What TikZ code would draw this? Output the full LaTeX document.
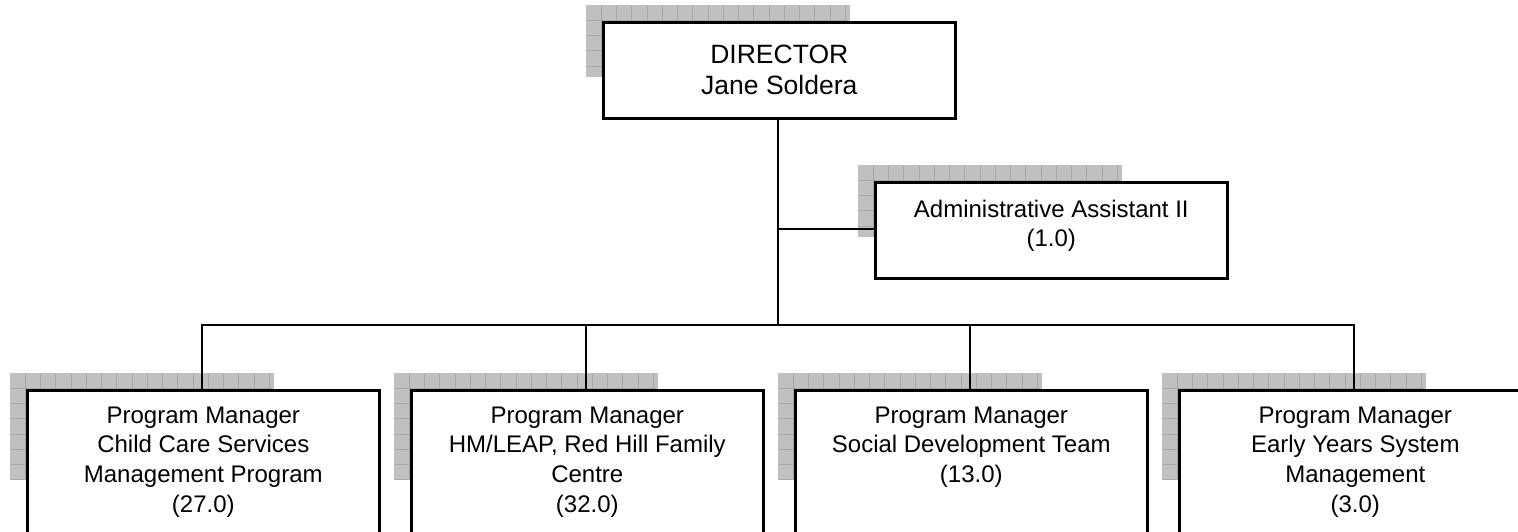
\documentclass[tikz,border=0pt]{standalone}
\usepackage{fontspec}
\setmainfont{Liberation Sans}
\definecolor{shadowfill}{HTML}{C0C0C0}
\definecolor{shadowline}{HTML}{A8A8A8}
% gray gridded drop shadow: left, top, width, height
\newcommand\dropgrid[4]{%
  \fill[shadowfill] (#1,#2) rectangle ++(#3,#4);
  \begin{scope}
    \clip (#1,#2) rectangle ++(#3,#4);
    \foreach \i in {1,...,18} \draw[shadowline,line width=0.8pt] ({#1+\i*15.25},#2) -- ++(0,#4);
    \foreach \j in {1,...,8} \draw[shadowline,line width=0.8pt] (#1,{#2+\j*15.25}) -- ++(#3,0);
  \end{scope}}
\begin{document}
\begin{tikzpicture}[x=1pt,y=-1pt,
  orgbox/.style={draw=black,fill=white,line width=2.6pt,inner sep=0pt,
    anchor=north west,minimum width=352pt,align=center},
  topbox/.style={orgbox,minimum height=96pt,font=\fontsize{24}{29.7}\selectfont},
  unitbox/.style={orgbox,minimum height=143pt,font=\fontsize{24}{29.7}\selectfont},
  link/.style={draw=black,line width=2pt}]
\useasboundingbox (0,0) rectangle (1518,531);
\clip (0,0) rectangle (1518,531);
\fill[white] (0,0) rectangle (1518,531);

% shadows
\dropgrid{586}{5}{264}{72}
\dropgrid{858}{165}{264}{72}
\dropgrid{10}{373}{264}{107}
\dropgrid{394}{373}{264}{107}
\dropgrid{778}{373}{264}{107}
\dropgrid{1162}{373}{264}{107}

% reporting lines
\coordinate (bus) at (778,325);
\coordinate (dirfoot) at (778,117);
\coordinate (admtap) at (778,229);
\coordinate (b1top) at (202,389);
\coordinate (b2top) at (586,389);
\coordinate (b3top) at (970,389);
\coordinate (b4top) at (1354,389);
\draw[link] (dirfoot) -- (bus);
\draw[link] (b1top) -- (b1top |- bus) -- (b4top |- bus) -- (b4top);
\draw[link] (b2top) -- (b2top |- bus);
\draw[link] (b3top) -- (b3top |- bus);
\draw[link] (admtap) -- (874,229);

% boxes
\node[topbox,font=\fontsize{26.5}{31}\selectfont] (dir) at (602,21) {DIRECTOR\\Jane Soldera};
\node[topbox,text depth=14pt] (adm) at (874,181) {Administrative Assistant II\\(1.0)};
\node[unitbox] (b1) at (26,389) {Program Manager\\Child Care Services\\Management Program\\(27.0)};
\node[unitbox] (b2) at (410,389) {Program Manager\\HM/LEAP, Red Hill Family\\Centre\\(32.0)};
\node[unitbox] (b3) at (794,389) {Program Manager\\Social Development Team\\(13.0)\\\vphantom{(27.0)}};
\node[unitbox] (b4) at (1178,389) {Program Manager\\Early Years System\\Management\\(3.0)};
\end{tikzpicture}
\end{document}
